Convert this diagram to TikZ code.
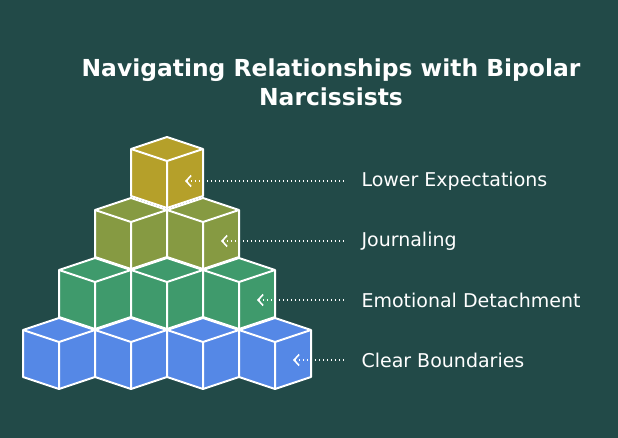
\documentclass[tikz,border=0pt]{standalone}
\usepackage{fontspec}
\setmainfont{DejaVu Sans}
\usetikzlibrary{arrows.meta}
\definecolor{bgcol}{HTML}{224A48}
\definecolor{rowA}{HTML}{B5A02A}
\definecolor{rowB}{HTML}{869A42}
\definecolor{rowC}{HTML}{3F9A6C}
\definecolor{rowD}{HTML}{5588E6}
\tikzset{
  cubeface/.style={draw=white,line width=2pt,line join=round},
  pointer/.style={white,line width=1.3pt,dash pattern=on 1.3pt off 2.7pt,{Straight Barb[length=5pt,width=11pt,line width=1.6pt]}-},
  label/.style={anchor=west,text=white,font=\fontsize{19}{22}\selectfont}
}
% a cube with its left edge at x and its top corner at y
\newcommand{\isocube}[3]{%
  \fill[#3] (#1+36,#2) -- (#1+72,#2+12) -- (#1+72,#2+59) -- (#1+36,#2+71) -- (#1,#2+59) -- (#1,#2+12) -- cycle;
  \draw[cubeface] (#1+36,#2) -- (#1+72,#2+12) -- (#1+72,#2+59) -- (#1+36,#2+71) -- (#1,#2+59) -- (#1,#2+12) -- cycle;
  \draw[cubeface] (#1,#2+12) -- (#1+36,#2+24) -- (#1+72,#2+12) (#1+36,#2+24) -- (#1+36,#2+71);
}
\begin{document}
\begin{tikzpicture}[x=1pt,y=-1pt]
  \fill[bgcol] (0,0) rectangle (618,438);
  \useasboundingbox (0,0) rectangle (618,438);

  % Titulo
  \node[text=white,align=center,font=\bfseries\fontsize{23.4}{29}\selectfont] (title) at (331,82)
    {Navigating Relationships with Bipolar\\Narcissists};

  % Piramide de cubos
  \isocube{131}{137}{rowA}
  \foreach \x in {95,167}{\isocube{\x}{198}{rowB}}
  \foreach \x in {59,131,203}{\isocube{\x}{258}{rowC}}
  \foreach \x in {23,95,167,239}{\isocube{\x}{318}{rowD}}

  % Etiquetas
  \node[label] (lower) at (358,181) {Lower Expectations};
  \node[label] (journal) at (358,241) {Journaling};
  \node[label] (detach) at (358,300) {Emotional Detachment};
  \node[label] (bound) at (358,360) {Clear Boundaries};

  \coordinate (tipA) at (185,181);
  \coordinate (tipB) at (221,241);
  \coordinate (tipC) at (257,300);
  \coordinate (tipD) at (293,360);
  \draw[pointer] (tipA) -- ([xshift=-12pt]lower.west);
  \draw[pointer] (tipB) -- ([xshift=-12pt]journal.west);
  \draw[pointer] (tipC) -- ([xshift=-12pt]detach.west);
  \draw[pointer] (tipD) -- ([xshift=-12pt]bound.west);
\end{tikzpicture}
\end{document}
